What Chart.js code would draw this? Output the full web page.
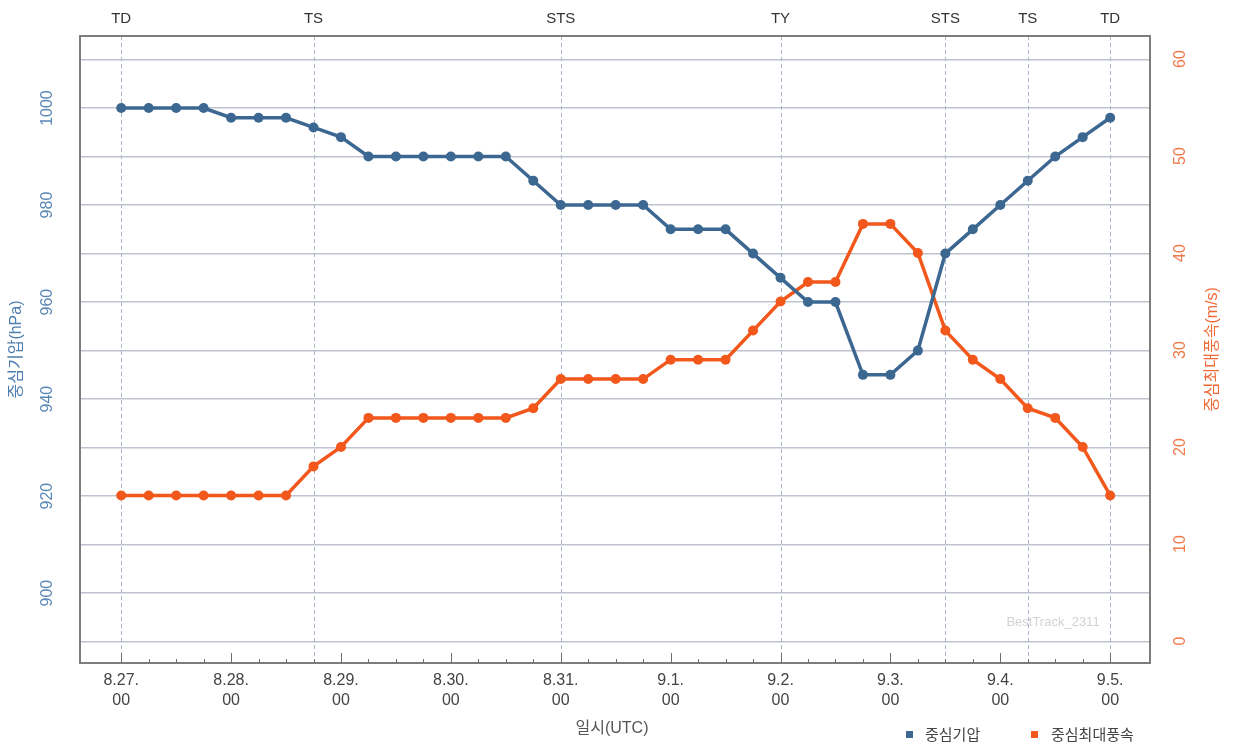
<!DOCTYPE html>
<html lang="ko">
<head>
<meta charset="utf-8">
<title>중심기압 / 중심최대풍속</title>
<script src="https://cdn.jsdelivr.net/npm/chart.js@4.4.1/dist/chart.umd.min.js"></script>
<style>
  html, body { margin: 0; padding: 0; background: #fff; }
  #wrap { width: 1235px; height: 748px; }
</style>
</head>
<body>
<div id="wrap"><canvas id="chart" width="1235" height="748"></canvas></div>
<script>
// 6시간 간격 시각 (월.일.시)
const times = [
  '8.27.00', '8.27.06', '8.27.12', '8.27.18',
  '8.28.00', '8.28.06', '8.28.12', '8.28.18',
  '8.29.00', '8.29.06', '8.29.12', '8.29.18',
  '8.30.00', '8.30.06', '8.30.12', '8.30.18',
  '8.31.00', '8.31.06', '8.31.12', '8.31.18',
  '9.1.00', '9.1.06', '9.1.12', '9.1.18',
  '9.2.00', '9.2.06', '9.2.12', '9.2.18',
  '9.3.00', '9.3.06', '9.3.12', '9.3.18',
  '9.4.00', '9.4.06', '9.4.12', '9.4.18',
  '9.5.00'
];

// 중심기압 (hPa)
const pressure = [1000, 1000, 1000, 1000, 998, 998, 998, 996, 994, 990, 990, 990, 990, 990, 990, 985,
  980, 980, 980, 980, 975, 975, 975, 970, 965, 960, 960, 945, 945, 950, 970, 975, 980, 985, 990, 994, 998];

// 중심최대풍속 (m/s)
const wind = [15, 15, 15, 15, 15, 15, 15, 18, 20, 23, 23, 23, 23, 23, 23, 24,
  27, 27, 27, 27, 29, 29, 29, 32, 35, 37, 37, 43, 43, 40, 32, 29, 27, 24, 23, 20, 15];

// 강도 단계 변화 시점
const stageTimes = ['8.27.00', '8.28.18', '8.31.00', '9.2.00', '9.3.12', '9.4.06', '9.5.00'];
const stageNames = ['TD', 'TS', 'STS', 'TY', 'STS', 'TS', 'TD'];

const pressureTicks = [900, 920, 940, 960, 980, 1000];
const windTicks = [0, 10, 20, 30, 40, 50, 60];

const BLUE = '#3b6791';
const ORANGE = '#f2571b';
const FONT = '"Liberation Sans", "Noto Sans CJK KR", sans-serif';

function splitTime(t) {
  const p = t.split('.');
  return { day: p[0] + '.' + p[1] + '.', hour: p[2] };
}

// 축 라벨, 단계 표시선, 범례 등을 직접 그림
const overlay = {
  id: 'overlay',
  beforeDatasetsDraw(chart) {
    const { ctx, chartArea: a, scales: { x } } = chart;
    ctx.save();
    ctx.strokeStyle = '#a8b5cc';
    ctx.lineWidth = 1;
    ctx.setLineDash([4, 3]);
    stageTimes.forEach(t => {
      const px = Math.round(x.getPixelForValue(times.indexOf(t))) + 0.5;
      ctx.beginPath();
      ctx.moveTo(px, a.top);
      ctx.lineTo(px, a.bottom);
      ctx.stroke();
    });
    ctx.setLineDash([]);

    // 워터마크
    ctx.fillStyle = '#d2d2d2';
    ctx.font = '13px ' + FONT;
    ctx.textAlign = 'center';
    ctx.textBaseline = 'middle';
    ctx.fillText('BestTrack_2311', 1053, 622);
    ctx.restore();
  },
  afterDraw(chart) {
    const { ctx, chartArea: a, scales: { x, y, y1 } } = chart;
    ctx.save();

    // 테두리
    ctx.strokeStyle = '#7d7d7d';
    ctx.lineWidth = 2;
    ctx.strokeRect(a.left, a.top, a.right - a.left, a.bottom - a.top);

    // x축 눈금 (안쪽)
    ctx.strokeStyle = '#707070';
    ctx.lineWidth = 1;
    times.forEach((t, i) => {
      const px = Math.round(x.getPixelForValue(i)) + 0.5;
      const len = splitTime(t).hour === '00' ? 10 : 4;
      ctx.beginPath();
      ctx.moveTo(px, a.bottom);
      ctx.lineTo(px, a.bottom - len);
      ctx.stroke();
    });

    // 단계 라벨
    ctx.fillStyle = '#333';
    ctx.font = '15px ' + FONT;
    ctx.textAlign = 'center';
    ctx.textBaseline = 'middle';
    stageTimes.forEach((t, i) => {
      ctx.fillText(stageNames[i], x.getPixelForValue(times.indexOf(t)), 19);
    });

    // y축 라벨 (회전)
    function vText(text, px, py, color, font) {
      ctx.save();
      ctx.translate(px, py);
      ctx.rotate(-Math.PI / 2);
      ctx.fillStyle = color;
      ctx.font = font;
      ctx.textAlign = 'center';
      ctx.textBaseline = 'middle';
      ctx.fillText(text, 0, 0);
      ctx.restore();
    }
    pressureTicks.forEach(v => vText(String(v), 48, y.getPixelForValue(v), '#5a87b5', '16px ' + FONT));
    windTicks.forEach(v => vText(String(v), 1181, y1.getPixelForValue(v), '#f07a4a', '16px ' + FONT));

    const midY = (a.top + a.bottom) / 2;
    vText('중심기압(hPa)', 17, midY, '#4f7fb0', '16px ' + FONT);
    vText('중심최대풍속(m/s)', 1213, midY, '#f06a38', '16px ' + FONT);

    // x축 제목
    ctx.fillStyle = '#555';
    ctx.font = '16px ' + FONT;
    ctx.textAlign = 'center';
    ctx.textBaseline = 'middle';
    ctx.fillText('일시(UTC)', 612, 729);

    // 범례
    ctx.font = '15px ' + FONT;
    ctx.textAlign = 'left';
    ctx.fillStyle = BLUE;
    ctx.fillRect(906, 731, 7, 7);
    ctx.fillStyle = '#444';
    ctx.fillText('중심기압', 925, 736);
    ctx.fillStyle = ORANGE;
    ctx.fillRect(1031, 731, 7, 7);
    ctx.fillStyle = '#444';
    ctx.fillText('중심최대풍속', 1051, 736);

    ctx.restore();
  }
};

const ctx = document.getElementById('chart').getContext('2d');
new Chart(ctx, {
  type: 'line',
  data: {
    datasets: [
      {
        label: '중심기압',
        data: pressure.map((v, i) => ({ x: i, y: v })),
        yAxisID: 'y',
        borderColor: BLUE,
        backgroundColor: BLUE,
        borderWidth: 3.5,
        pointRadius: 5,
        pointBorderWidth: 0,
        tension: 0
      },
      {
        label: '중심최대풍속',
        data: wind.map((v, i) => ({ x: i, y: v })),
        yAxisID: 'y1',
        borderColor: ORANGE,
        backgroundColor: ORANGE,
        borderWidth: 3.5,
        pointRadius: 5,
        pointBorderWidth: 0,
        tension: 0
      }
    ]
  },
  options: {
    responsive: false,
    animation: false,
    layout: { padding: { top: 36 } },
    plugins: {
      legend: { display: false },
      tooltip: { enabled: false }
    },
    scales: {
      x: {
        type: 'linear',
        min: -1.5,
        max: 37.45,
        afterBuildTicks: s => { s.ticks = times.map((t, i) => ({ value: i })); },
        afterFit: s => { s.height = 85; },
        grid: { display: false, drawTicks: false },
        border: { display: false },
        ticks: {
          autoSkip: false,
          maxRotation: 0,
          padding: 8,
          color: '#444',
          font: { family: FONT, size: 16, lineHeight: 1.25 },
          callback: v => {
            const t = times[v];
            if (!t) return '';
            const s = splitTime(t);
            return s.hour === '00' ? [s.day, s.hour] : '';
          }
        }
      },
      y: {
        position: 'left',
        min: 885.6,
        max: 1014.85,
        afterBuildTicks: s => {
          const ticks = [];
          for (let v = 890; v <= 1010; v += 10) ticks.push({ value: v });
          s.ticks = ticks;
        },
        afterFit: s => { s.width = 80; },
        grid: { color: '#bfc3cf', lineWidth: 1.5, drawTicks: false },
        border: { display: false },
        ticks: { display: false }
      },
      y1: {
        position: 'right',
        min: -2.27,
        max: 62.37,
        afterFit: s => { s.width = 85; },
        grid: { display: false, drawTicks: false },
        border: { display: false },
        ticks: { display: false }
      }
    }
  },
  plugins: [overlay]
});
</script>
</body>
</html>
